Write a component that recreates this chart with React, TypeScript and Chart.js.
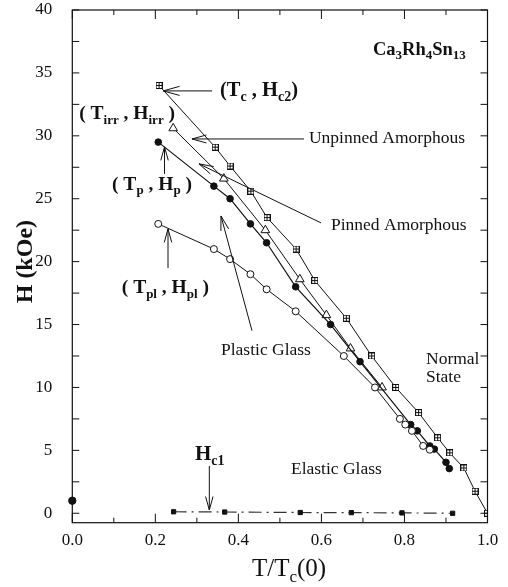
import React, { useEffect, useRef } from "react";
import { Chart, registerables } from "chart.js";
Chart.register(...registerables);

// T/Tc(0) and H (kOe) values
const hc2T = [0.209, 0.344, 0.380, 0.430, 0.469, 0.539, 0.584, 0.660, 0.721, 0.779, 0.834, 0.880, 0.909, 0.943, 0.970, 1.0];
const hc2H = [34.0, 29.1, 27.6, 25.6, 23.5, 21.0, 18.5, 15.5, 12.5, 10.0, 8.0, 6.0, 4.8, 3.6, 1.75, 0.0];
const irrT = [0.243, 0.365, 0.465, 0.548, 0.612, 0.670, 0.746];
const irrH = [30.6, 26.6, 22.5, 18.6, 15.75, 13.1, 10.0];
const pT = [0.207, 0.341, 0.380, 0.429, 0.468, 0.538, 0.622, 0.693, 0.815, 0.831, 0.861, 0.872, 0.900, 0.908];
const pH = [29.5, 26.0, 25.0, 23.0, 21.5, 18.0, 15.0, 12.05, 7.05, 6.55, 5.35, 5.1, 4.05, 3.55];
const plT = [0.207, 0.341, 0.380, 0.429, 0.468, 0.538, 0.654, 0.729, 0.789, 0.802, 0.818, 0.845, 0.861];
const plH = [23.0, 21.0, 20.2, 19.0, 17.8, 16.05, 12.5, 10.0, 7.5, 7.05, 6.55, 5.35, 5.05];
const hc1T = [0.244, 0.367, 0.549, 0.672, 0.794, 0.916];
const hc1H = [0.12, 0.1, 0.06, 0.05, 0.03, 0.0];
const zeroT = [0.0];
const zeroH = [1.0];

const xTickVals = [0, 0.2, 0.4, 0.6, 0.8, 1.0];
const xTickLabels = ["0.0", "0.2", "0.4", "0.6", "0.8", "1.0"];
const yTickVals = [0, 5, 10, 15, 20, 25, 30, 35, 40];
const yTickLabels = ["0", "5", "10", "15", "20", "25", "30", "35", "40"];
const X_MIN = 0, X_MAX = 1, Y_MIN = -0.75, Y_MAX = 40;

const SERIF = '"Liberation Serif", "Times New Roman", serif';
const INK = "#111";

type Seg = [string, number];
// annotation texts, anchored in data coordinates
const labels: { segs: Seg[]; t: number; h: number; size: number; bold: boolean; align: "left" | "right" | "center" }[] = [
  { segs: [["(T", 0], ["c", 1], [" , H", 0], ["c2", 1], [")", 0]], t: 0.3557, h: 33.57, size: 20.5, bold: true, align: "left" },
  { segs: [["( T", 0], ["irr", 1], [" , H", 0], ["irr", 1], [" )", 0]], t: 0.2474, h: 31.73, size: 19.5, bold: true, align: "right" },
  { segs: [["( T", 0], ["p", 1], [" , H", 0], ["p", 1], [" )", 0]], t: 0.2883, h: 26.1, size: 19.5, bold: true, align: "right" },
  { segs: [["( T", 0], ["pl", 1], [" , H", 0], ["pl", 1], [" )", 0]], t: 0.3292, h: 17.91, size: 19.5, bold: true, align: "right" },
  { segs: [["Unpinned Amorphous", 0]], t: 0.57, h: 29.83, size: 17.5, bold: false, align: "left" },
  { segs: [["Pinned Amorphous", 0]], t: 0.6231, h: 22.84, size: 17.5, bold: false, align: "left" },
  { segs: [["Plastic Glass", 0]], t: 0.3581, h: 12.98, size: 17.5, bold: false, align: "left" },
  { segs: [["Elastic Glass", 0]], t: 0.5267, h: 3.52, size: 17.5, bold: false, align: "left" },
  { segs: [["Normal", 0]], t: 0.8519, h: 12.19, size: 17.5, bold: false, align: "left" },
  { segs: [["State", 0]], t: 0.8519, h: 10.76, size: 17.5, bold: false, align: "left" },
  { segs: [["Ca", 0], ["3", 1], ["Rh", 0], ["4", 1], ["Sn", 0], ["13", 1]], t: 0.7242, h: 36.83, size: 18.5, bold: true, align: "left" },
  { segs: [["H", 0], ["c1", 1]], t: 0.2955, h: 4.63, size: 21, bold: true, align: "left" },
];

// arrows: from (t1,h1) to tip (t2,h2)
const arrows: { t1: number; h1: number; t2: number; h2: number; len: number }[] = [
  { t1: 0.3369, h1: 33.57, t2: 0.2189, h2: 33.57, len: 17 },
  { t1: 0.558, h1: 29.75, t2: 0.2882, h2: 29.75, len: 15 },
  { t1: 0.599, h1: 23.08, t2: 0.3051, h2: 27.77, len: 15 },
  { t1: 0.2221, h1: 26.97, t2: 0.2221, h2: 29.12, len: 14 },
  { t1: 0.2305, h1: 19.5, t2: 0.2305, h2: 22.6, len: 14 },
  { t1: 0.4328, h1: 14.51, t2: 0.3581, h2: 23.63, len: 15 },
  { t1: 0.33, h1: 3.76, t2: 0.33, h2: 0.26, len: 14 },
];

function pts(xs: number[], ys: number[]) {
  return xs.map((x, i) => ({ x, y: ys[i] }));
}

function crossSquare(): HTMLCanvasElement {
  const c = document.createElement("canvas");
  c.width = 7;
  c.height = 7;
  const g = c.getContext("2d")!;
  g.fillStyle = "#fff";
  g.fillRect(0, 0, 7, 7);
  g.strokeStyle = INK;
  g.lineWidth = 1;
  g.strokeRect(0.5, 0.5, 6, 6);
  g.beginPath();
  g.moveTo(3.5, 1);
  g.lineTo(3.5, 6);
  g.moveTo(1, 3.5);
  g.lineTo(6, 3.5);
  g.stroke();
  return c;
}

function drawRich(ctx: CanvasRenderingContext2D, segs: Seg[], x: number, y: number, size: number, bold: boolean, align: string) {
  const w8 = bold ? "bold" : "normal";
  const sub = Math.round(size * 0.68);
  const fN = `${w8} ${size}px ${SERIF}`;
  const fS = `${w8} ${sub}px ${SERIF}`;
  let w = 0;
  for (const [t, s] of segs) {
    ctx.font = s ? fS : fN;
    w += ctx.measureText(t).width;
  }
  let cx = align === "left" ? x : align === "right" ? x - w : x - w / 2;
  ctx.textBaseline = "middle";
  ctx.textAlign = "left";
  for (const [t, s] of segs) {
    ctx.font = s ? fS : fN;
    ctx.fillText(t, cx, s ? y + size * 0.32 : y);
    cx += ctx.measureText(t).width;
  }
}

function drawArrow(ctx: CanvasRenderingContext2D, x1: number, y1: number, x2: number, y2: number, len: number) {
  const a = Math.atan2(y1 - y2, x1 - x2);
  const ang = 0.27;
  ctx.beginPath();
  ctx.moveTo(x1, y1);
  ctx.lineTo(x2, y2);
  ctx.moveTo(x2 + len * Math.cos(a + ang), y2 + len * Math.sin(a + ang));
  ctx.lineTo(x2, y2);
  ctx.lineTo(x2 + len * Math.cos(a - ang), y2 + len * Math.sin(a - ang));
  ctx.stroke();
}

const framePlugin = {
  id: "framePlugin",
  afterDraw(chart: any) {
    const ctx: CanvasRenderingContext2D = chart.ctx;
    const { left, right, top, bottom } = chart.chartArea;
    const xs = chart.scales.x;
    const ys = chart.scales.y;
    ctx.save();
    ctx.strokeStyle = INK;
    ctx.fillStyle = INK;
    ctx.lineWidth = 1.2;
    ctx.strokeRect(left, top, right - left, bottom - top);
    ctx.lineWidth = 1;
    ctx.beginPath();
    for (let i = 0; i <= 10; i++) {
      const px = xs.getPixelForValue(i / 10);
      const L = i % 2 === 0 ? 9 : 5;
      ctx.moveTo(px, bottom);
      ctx.lineTo(px, bottom - L);
      ctx.moveTo(px, top);
      ctx.lineTo(px, top + L);
    }
    for (let i = 0; i <= 16; i++) {
      const py = ys.getPixelForValue(i * 2.5);
      ctx.moveTo(left, py);
      ctx.lineTo(left + 7, py);
      ctx.moveTo(right, py);
      ctx.lineTo(right - 7, py);
    }
    ctx.stroke();

    // tick labels
    ctx.font = `17px ${SERIF}`;
    ctx.textBaseline = "middle";
    ctx.textAlign = "center";
    xTickVals.forEach((v, i) => ctx.fillText(xTickLabels[i], xs.getPixelForValue(v), bottom + 17.5));
    ctx.textAlign = "right";
    yTickVals.forEach((v, i) => ctx.fillText(yTickLabels[i], left - 20, ys.getPixelForValue(v)));

    // annotations
    for (const l of labels) {
      drawRich(ctx, l.segs, xs.getPixelForValue(l.t), ys.getPixelForValue(l.h), l.size, l.bold, l.align);
    }
    ctx.lineWidth = 1;
    for (const a of arrows) {
      drawArrow(ctx, xs.getPixelForValue(a.t1), ys.getPixelForValue(a.h1), xs.getPixelForValue(a.t2), ys.getPixelForValue(a.h2), a.len);
    }

    // axis titles
    drawRich(ctx, [["T/T", 0], ["c", 1], ["(0)", 0]], xs.getPixelForValue(0.522), bottom + 47, 25, false, "center");
    ctx.save();
    ctx.translate(left - 47, ys.getPixelForValue(20));
    ctx.rotate(-Math.PI / 2);
    drawRich(ctx, [["H (kOe)", 0]], 0, 0, 24, true, "center");
    ctx.restore();
    ctx.restore();
  },
};

export default function App() {
  const ref = useRef<HTMLCanvasElement>(null);
  useEffect(() => {
    const sq = crossSquare();
    const line = { showLine: true, borderColor: INK, borderWidth: 1, tension: 0, pointBorderColor: INK, pointBorderWidth: 1 };
    const chart = new Chart(ref.current!, {
      type: "scatter",
      data: {
        datasets: [
          { ...line, label: "Hc1", data: pts(hc1T, hc1H), borderColor: "#333", borderWidth: 1.2, borderDash: [13, 5, 2, 5], pointStyle: "rect", pointRadius: 3, pointBackgroundColor: INK },
          { ...line, label: "Hpl", data: pts(plT, plH), pointStyle: "circle", pointRadius: 3.5, pointBackgroundColor: "#fff" },
          { ...line, label: "Hp", data: pts(pT, pH), borderWidth: 1.2, pointStyle: "circle", pointRadius: 3.3, pointBackgroundColor: INK },
          { ...line, label: "Hirr", data: pts(irrT, irrH), pointStyle: "triangle", pointRadius: 5, pointBackgroundColor: "#fff" },
          { ...line, label: "Hc2", data: pts(hc2T, hc2H), pointStyle: sq as any, pointRadius: 4, pointBackgroundColor: "#fff" },
          { label: "H0", data: pts(zeroT, zeroH), showLine: false, clip: false as any, pointStyle: "circle", pointRadius: 3.7, pointBackgroundColor: INK, pointBorderColor: INK },
        ],
      },
      options: {
        responsive: false,
        animation: false,
        devicePixelRatio: 1,
        layout: { padding: { top: 10, right: 20.5, left: 0, bottom: 0 } },
        plugins: { legend: { display: false }, tooltip: { enabled: false } },
        scales: {
          x: {
            type: "linear",
            min: X_MIN,
            max: X_MAX,
            grid: { display: false, drawTicks: false, tickLength: 0 },
            border: { display: false },
            ticks: { display: false },
            afterFit: (s: any) => { s.height = 64.3; },
          },
          y: {
            type: "linear",
            min: Y_MIN,
            max: Y_MAX,
            grid: { display: false, drawTicks: false, tickLength: 0 },
            border: { display: false },
            ticks: { display: false },
            afterFit: (s: any) => { s.width = 72.3; },
          },
        },
      },
      plugins: [framePlugin],
    } as any);
    return () => chart.destroy();
  }, []);
  return (
    <div style={{ position: "absolute", left: 0, top: 0, width: 508, height: 587, background: "#fff" }}>
      <canvas ref={ref} width={508} height={587} style={{ display: "block" }} />
    </div>
  );
}
